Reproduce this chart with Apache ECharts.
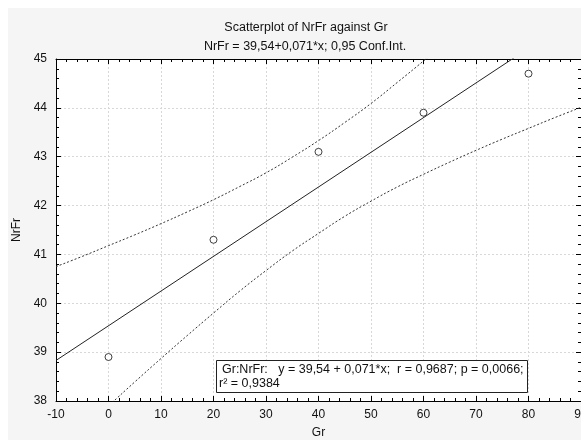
<!DOCTYPE html>
<html>
<head>
<meta charset="utf-8">
<script src="https://cdn.jsdelivr.net/npm/echarts@6/dist/echarts.min.js"></script>
<style>html,body{margin:0;padding:0;background:#fff;}#c{width:581px;height:440px;}</style>
</head>
<body>
<div id="c"></div>
<script>
// Observed data
const grValues = [0, 20, 40, 60, 80];
const nrfrValues = [38.9, 41.3, 43.1, 43.9, 44.7];
// Fitted line y = 39.54 + 0.071*x, read at the plot edges
const fitX = [-10, 90];
const fitY = [38.83, 45.93];
// 0.95 confidence band, read along the x range
const bandX = [-10, -5, 0, 5, 10, 15, 20, 25, 30, 35, 40, 45, 50, 55, 60, 65, 70, 75, 80, 85, 90];
const bandUpper = [40.75, 40.96, 41.18, 41.40, 41.63, 41.87, 42.12, 42.39, 42.67, 42.99, 43.33, 43.70, 44.09, 44.52, 44.96, 45.42, 45.89, 46.37, 46.86, 47.35, 47.85];
const bandLower = [36.91, 37.41, 37.90, 38.39, 38.87, 39.34, 39.80, 40.25, 40.67, 41.07, 41.43, 41.78, 42.09, 42.38, 42.64, 42.89, 43.13, 43.36, 43.58, 43.80, 44.01];

const titleText = 'Scatterplot of NrFr against Gr';
const subtitleText = 'NrFr = 39,54+0,071*x; 0,95 Conf.Int.';
const boxLine1 = 'Gr:NrFr:   y = 39,54 + 0,071*x;  r = 0,9687; p = 0,0066;';
const boxLine2 = 'r² = 0,9384';

const FONT = '"Liberation Sans", Arial, sans-serif';
const chart = echarts.init(document.getElementById('c'), null, {renderer: 'canvas'});

const zip = (xs, ys) => xs.map((x, i) => [x, ys[i]]);

const baseAxis = {
  axisLine: {show: true, onZero: false, lineStyle: {color: '#000', width: 1}},
  axisTick: {show: true, inside: true, length: 5, lineStyle: {color: '#000'}},
  minorTick: {show: true, splitNumber: 5, length: 3, lineStyle: {color: '#000'}},
};

chart.setOption({
  animation: false,
  backgroundColor: '#ffffff',
  textStyle: {fontFamily: FONT},
  title: [
    {text: titleText, left: 301, top: 16, textAlign: 'center',
     textStyle: {fontFamily: FONT, fontSize: 12.5, fontWeight: 'normal', color: '#111'}},
    {text: subtitleText, left: 300, top: 35, textAlign: 'center',
     textStyle: {fontFamily: FONT, fontSize: 12.5, fontWeight: 'normal', color: '#111'}}
  ],
  grid: {left: 56, right: 0, top: 59, bottom: 39, show: true, backgroundColor: '#ffffff', borderWidth: 0,
         containLabel: false, outerBoundsMode: 'none'},
  xAxis: [
    Object.assign({}, baseAxis, {
      type: 'value', min: -10, max: 90, interval: 10, position: 'bottom',
      name: 'Gr', nameLocation: 'middle', nameGap: 26,
      nameTextStyle: {fontFamily: FONT, fontSize: 12, color: '#111'},
      axisLabel: {fontFamily: FONT, fontSize: 12, color: '#111', margin: 8},
      splitLine: {show: true, lineStyle: {color: '#d8d8d8', type: [2, 2]}}
    }),
    Object.assign({}, baseAxis, {
      type: 'value', min: -10, max: 90, interval: 10, position: 'top',
      axisLabel: {show: false}, splitLine: {show: false}
    })
  ],
  yAxis: [
    Object.assign({}, baseAxis, {
      type: 'value', min: 38, max: 45, interval: 1, position: 'left',
      name: 'NrFr', nameLocation: 'middle', nameGap: 31, nameRotate: 90,
      nameTextStyle: {fontFamily: FONT, fontSize: 12, color: '#111'},
      axisLabel: {fontFamily: FONT, fontSize: 12, color: '#111', margin: 9},
      splitLine: {show: true, lineStyle: {color: '#d8d8d8', type: [2, 2]}}
    }),
    Object.assign({}, baseAxis, {
      type: 'value', min: 38, max: 45, interval: 1, position: 'right',
      axisLabel: {show: false}, splitLine: {show: false}
    })
  ],
  series: [
    {type: 'line', name: 'upper', data: zip(bandX, bandUpper), smooth: true, showSymbol: false, clip: true,
     lineStyle: {color: '#333', width: 1, type: [2, 2]}, z: 3},
    {type: 'line', name: 'lower', data: zip(bandX, bandLower), smooth: true, showSymbol: false, clip: true,
     lineStyle: {color: '#333', width: 1, type: [2, 2]}, z: 3},
    {type: 'line', name: 'fit', data: zip(fitX, fitY), showSymbol: false, clip: true,
     lineStyle: {color: '#222', width: 1}, z: 4},
    {type: 'scatter', name: 'obs', data: zip(grValues, nrfrValues), symbol: 'circle', symbolSize: 7,
     itemStyle: {color: '#ffffff', borderColor: '#111', borderWidth: 1}, z: 5}
  ],
  graphic: [
    {type: 'rect', z: -10, silent: true, shape: {x: 8, y: 8, width: 600, height: 440}, style: {fill: '#f5f5f5'}},
    {type: 'rect', z: 100, silent: true, shape: {x: 216.5, y: 360.5, width: 311, height: 32},
     style: {fill: '#ffffff', stroke: '#222', lineWidth: 1}},
    {type: 'text', z: 101, silent: true, x: 222, y: 363, style: {text: boxLine1, font: '12.5px ' + FONT, fill: '#111'}},
    {type: 'text', z: 101, silent: true, x: 219, y: 377, style: {text: boxLine2, font: '12.5px ' + FONT, fill: '#111'}}
  ]
});
</script>
</body>
</html>
